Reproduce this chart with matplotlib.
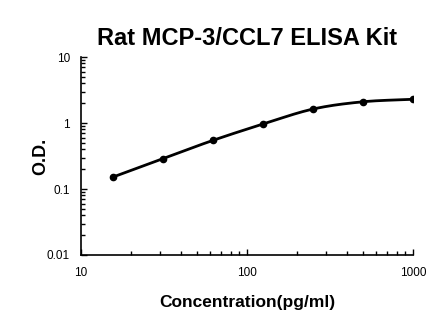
import numpy as np
import matplotlib
matplotlib.use("Agg")
import matplotlib.pyplot as plt
from matplotlib.ticker import LogLocator, NullFormatter, FixedLocator, FixedFormatter

plt.rcParams['font.family'] = ['Liberation Sans', 'DejaVu Sans']

conc = [15.6, 31.25, 62.5, 125, 250, 500, 1000]
od = [0.152, 0.29, 0.547, 0.966, 1.63, 2.10, 2.29]


def smooth(x, y, n=40):
    # Catmull-Rom through the points in log space
    lx, ly = np.log10(x), np.log10(y)
    px = np.concatenate([[2 * lx[0] - lx[1]], lx, [2 * lx[-1] - lx[-2]]])
    py = np.concatenate([[2 * ly[0] - ly[1]], ly, [2 * ly[-1] - ly[-2]]])
    xs, ys = [], []
    t = np.linspace(0, 1, n)
    for i in range(1, len(px) - 2):
        for p, out in ((px, xs), (py, ys)):
            p0, p1, p2, p3 = p[i - 1], p[i], p[i + 1], p[i + 2]
            out.append(0.5 * (2 * p1 + (-p0 + p2) * t
                              + (2 * p0 - 5 * p1 + 4 * p2 - p3) * t ** 2
                              + (-p0 + 3 * p1 - 3 * p2 + p3) * t ** 3))
    return 10 ** np.concatenate(xs), 10 ** np.concatenate(ys)


fig = plt.figure(figsize=(4.46, 3.26), dpi=100)
ax = fig.add_axes([0.1816, 0.2178, 0.7444, 0.6072])

sx, sy = smooth(conc, od)
ax.plot(sx, sy, color='black', lw=2)
ax.plot(conc, od, 'o', color='black', ms=4.5)

ax.set_xscale('log')
ax.set_yscale('log')
ax.set_xlim(10, 1000)
ax.set_ylim(0.01, 10)

ax.xaxis.set_major_locator(FixedLocator([10, 100, 1000]))
ax.xaxis.set_major_formatter(FixedFormatter(['10', '100', '1000']))
ax.xaxis.set_minor_locator(LogLocator(base=10, subs=np.arange(2, 10)))
ax.xaxis.set_minor_formatter(NullFormatter())
ax.yaxis.set_major_locator(FixedLocator([0.01, 0.1, 1, 10]))
ax.yaxis.set_major_formatter(FixedFormatter(['0.01', '0.1', '1', '10']))
ax.yaxis.set_minor_locator(LogLocator(base=10, subs=np.arange(2, 10)))
ax.yaxis.set_minor_formatter(NullFormatter())

for s in ('top', 'right'):
    ax.spines[s].set_visible(False)
for s in ('left', 'bottom'):
    ax.spines[s].set_linewidth(1.2)

ax.tick_params(axis='both', which='both', direction='in', labelsize=8.5, width=1)
ax.tick_params(axis='both', which='major', length=4)
ax.tick_params(axis='both', which='minor', length=3)
ax.tick_params(axis='x', which='both', pad=9)
ax.tick_params(axis='y', which='both', pad=8)

ax.set_title('Rat MCP-3/CCL7 ELISA Kit', fontsize=17, fontweight='bold', pad=9)
ax.set_xlabel('Concentration(pg/ml)', fontsize=12.5, fontweight='bold', labelpad=11)
ax.set_ylabel('O.D.', fontsize=13, fontweight='bold', labelpad=-2)

fig.savefig('out.png', dpi=100)
